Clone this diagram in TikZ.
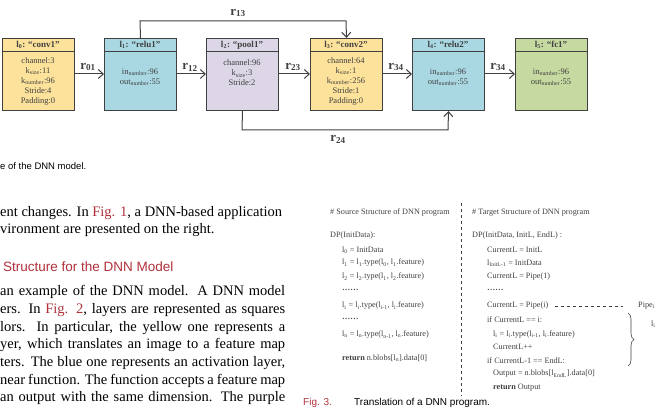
\documentclass[tikz,border=0pt]{standalone}
\usepackage{fontspec}
\setmainfont{Liberation Serif}
\setsansfont{Liberation Sans}
\usetikzlibrary{arrows.meta,decorations.pathreplacing}
\definecolor{cyel}{HTML}{FCE29A}
\definecolor{cblu}{HTML}{A9D8E3}
\definecolor{cpur}{HTML}{DCD6E6}
\definecolor{cgrn}{HTML}{C6D9A0}
\definecolor{cred}{HTML}{B0303A}
\definecolor{cdark}{HTML}{404040}
\tikzset{
 lay/.style={draw=cdark,line width=1pt,minimum width=72pt,minimum height=72pt,anchor=north west,inner sep=0pt},
 body/.style={font=\fontsize{8.5}{10}\selectfont,align=center,text=cdark},
 hdr/.style={font=\fontsize{9}{10}\selectfont\bfseries,text=cdark},
 con/.style={draw=cdark,line width=1pt,-{Straight Barb[length=5pt,width=9pt]}},
 rl/.style={font=\fontsize{13}{13}\selectfont\bfseries,text=cdark},
 txt/.style={anchor=west,inner sep=0pt,font=\fontsize{14.5}{15}\selectfont},
 code/.style={anchor=west,inner sep=0pt,font=\fontsize{8.2}{9}\selectfont,text=cdark},
}
\newcommand{\jl}[1]{\makebox[285pt][s]{#1}}
\begin{document}
\begin{tikzpicture}[x=1pt,y=-1pt]
\useasboundingbox (0,0) rectangle (659,411);
% layers
\foreach \n/\x/\c in {a/2/cyel,b/104/cblu,c/206/cpur,d/310/cyel,e/412/cblu,f/515/cgrn}{
 \node[lay,fill=\c] (\n) at (\x,38) {};
 \draw[cdark,line width=1pt] (\x,52) -- ++(72,0);
}
\node[hdr] (ha) at (38,45) {l\textsubscript{0}: “conv1”};
\node[hdr] (hb) at (140,45) {l\textsubscript{1}: “relu1”};
\node[hdr] (hc) at (242,45) {l\textsubscript{2}: “pool1”};
\node[hdr] (hd) at (346,45) {l\textsubscript{3}: “conv2”};
\node[hdr] (he) at (448,45) {l\textsubscript{4}: “relu2”};
\node[hdr] (hf) at (551,45) {l\textsubscript{5}: “fc1”};
\node[body] (ta) at (38,81) {channel:3\\k\textsubscript{size}:11\\k\textsubscript{number}:96\\Stride:4\\Padding:0};
\node[body] (tb) at (140,77) {in\textsubscript{number}:96\\out\textsubscript{number}:55};
\node[body] (tc) at (242,73) {channel:96\\k\textsubscript{size}:3\\Stride:2};
\node[body] (td) at (346,81) {channel:64\\k\textsubscript{size}:1\\k\textsubscript{number}:256\\Stride:1\\Padding:0};
\node[body] (te) at (448,77) {in\textsubscript{number}:96\\out\textsubscript{number}:55};
\node[body] (tf) at (551,77) {in\textsubscript{number}:96\\out\textsubscript{number}:55};
\draw[con] (a.east |- 0,74) -- (b.west |- 0,74);
\draw[con] (b.east |- 0,74) -- (c.west |- 0,74);
\draw[con] (c.east |- 0,74) -- (d.west |- 0,74);
\draw[con] (d.east |- 0,74) -- (e.west |- 0,74);
\draw[con] (e.east |- 0,74) -- (f.west |- 0,74);
\node[rl] (r01) at (88,67) {r\textsubscript{01}};
\node[rl] (r12) at (190,67) {r\textsubscript{12}};
\node[rl] (r23) at (293,67) {r\textsubscript{23}};
\node[rl] (r34) at (396,67) {r\textsubscript{34}};
\node[rl] (r45) at (498,67) {r\textsubscript{34}};
\draw[con] (b.north) -- (140,21) -- (346,21) -- (d.north);
\draw[con] (c.south) -- (242,130) -- (448,130) -- (e.south);
\node[rl] (r13) at (238,13) {r\textsubscript{13}};
\node[rl] (r24) at (338,139) {r\textsubscript{24}};
% left text
\node[anchor=west,inner sep=0pt,font=\sffamily\fontsize{9.5}{10}\selectfont] (c1) at (0,166) {e of the DNN model.};
\node[txt] (p1) at (0,213) {ent changes. In \textcolor{cred}{Fig. 1}, a DNN-based application};
\node[txt] (p2) at (0,230) {vironment are presented on the right.};
\node[anchor=west,inner sep=0pt,font=\sffamily\fontsize{13.5}{14}\selectfont,text=cred] (h1) at (3,267) {Structure for the DNN Model};
\node[txt] (q1) at (0,292) {\jl{an example of the DNN model. A DNN model}};
\node[txt] (q2) at (0,310) {\jl{ers. In \textcolor{cred}{Fig. 2}, layers are represented as squares}};
\node[txt] (q3) at (0,328) {\jl{lors. In particular, the yellow one represents a}};
\node[txt] (q4) at (0,345) {\jl{yer, which translates an image to a feature map}};
\node[txt] (q5) at (0,363) {\jl{ters. The blue one represents an activation layer,}};
\node[txt] (q6) at (0,381) {\jl{near function. The function accepts a feature map}};
\node[txt] (q7) at (0,398) {\jl{an output with the same dimension. The purple}};
% code
\node[code] (s0) at (330,213) {\# Source Structure of DNN program};
\node[code] (s1) at (330,236) {DP(InitData):};
\node[code] (s2) at (342,250) {l\textsubscript{0} = InitData};
\node[code] (s3) at (342,263) {l\textsubscript{1} = l\textsubscript{1}.type(l\textsubscript{0}, l\textsubscript{1}.feature)};
\node[code] (s4) at (342,277) {l\textsubscript{2} = l\textsubscript{2}.type(l\textsubscript{1}, l\textsubscript{2}.feature)};
\node[code] (s5) at (342,290) {\textbf{……}};
\node[code] (s6) at (342,306) {l\textsubscript{i} = l\textsubscript{i}.type(l\textsubscript{i-1}, l\textsubscript{i}.feature)};
\node[code] (s7) at (342,319) {\textbf{……}};
\node[code] (s8) at (342,335) {l\textsubscript{n} = l\textsubscript{n}.type(l\textsubscript{n-1}, l\textsubscript{n}.feature)};
\node[code] (s9) at (342,358) {\textbf{return} n.blobs[l\textsubscript{n}].data[0]};
\draw[cdark,dashed,line width=0.6pt] (461,203) -- (461,396);
\node[code] (t0) at (472,213) {\# Target Structure of DNN program};
\node[code] (t1) at (472,236) {DP(InitData, InitL, EndL) :};
\node[code] (t2) at (487,250) {CurrentL = InitL};
\node[code] (t3) at (487,263) {l\textsubscript{InitL-1} = InitData};
\node[code] (t4) at (487,277) {CurrentL = Pipe(1)};
\node[code] (t5) at (487,290) {\textbf{……}};
\node[code] (t6) at (487,306) {CurrentL = Pipe(i)};
\node[code] (t7) at (487,320) {if CurrentL == i:};
\node[code] (t8) at (493,334) {l\textsubscript{i} = l\textsubscript{i}.type(l\textsubscript{i-1}, l\textsubscript{i}.feature)};
\node[code] (t9) at (493,347) {CurrentL++};
\node[code] (t10) at (487,361) {if CurrentL-1 == EndL:};
\node[code] (t11) at (493,374) {Output = n.blobs[l\textsubscript{EndL}].data[0]};
\node[code] (t12) at (493,388) {\textbf{return} Output};
\node[code] (pp) at (638,306) {Pipe\textsubscript{i}};
\draw[cdark,dashed,line width=0.6pt] (t6.east) ++(6,0) -- (623,306);
\node[code] (li) at (651,324) {l\textsubscript{i}};
\draw[cdark,line width=0.6pt,decorate,decoration={brace,amplitude=6pt}] (628,313) -- (628,366);
\node[anchor=west,inner sep=0pt,font=\sffamily\fontsize{10}{10}\selectfont,text=cred] (f3) at (303,403) {Fig. 3.};
\node[anchor=west,inner sep=0pt,font=\sffamily\fontsize{10}{10}\selectfont] (f3b) at (354,403) {Translation of a DNN program.};
\end{tikzpicture}
\end{document}
